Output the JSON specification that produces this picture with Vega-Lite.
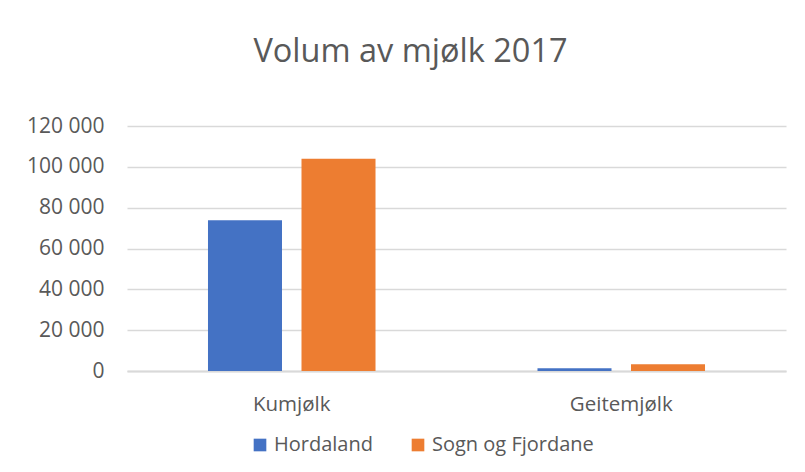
{
  "$schema": "https://vega.github.io/schema/vega-lite/v6.json",
  "autosize": {"type": "none"},
  "width": 659,
  "height": 245,
  "padding": {"left": 127, "top": 126, "right": 19, "bottom": 101},
  "background": "white",
  "config": {
    "locale": {"number": {"decimal": ",", "thousands": " ", "grouping": [3], "currency": ["", " kr"]}},
    "font": "Open Sans",
    "view": {"stroke": null}
  },
  "title": {
    "text": "Volum av mjølk 2017",
    "fontSize": 32.5,
    "font": "Open Sans",
    "fontWeight": "normal",
    "color": "#595959",
    "anchor": "middle",
    "dx": -46,
    "offset": 47
  },
  "data": {
    "values": [
      {"type": "Kumjølk", "region": "Hordaland", "volum": 73800},
      {"type": "Kumjølk", "region": "Sogn og Fjordane", "volum": 104000},
      {"type": "Geitemjølk", "region": "Hordaland", "volum": 1300},
      {"type": "Geitemjølk", "region": "Sogn og Fjordane", "volum": 3300}
    ]
  },
  "mark": {"type": "bar"},
  "encoding": {
    "x": {
      "field": "type",
      "type": "nominal",
      "sort": ["Kumjølk", "Geitemjølk"],
      "scale": {"paddingInner": 0, "paddingOuter": 0},
      "axis": {
        "title": null,
        "labelAngle": 0,
        "labelFontSize": 20.5,
        "labelColor": "#595959",
        "labelPadding": 23,
        "ticks": false,
        "domainColor": "#d9d9d9",
        "domainWidth": 2
      }
    },
    "xOffset": {
      "field": "region",
      "type": "nominal",
      "sort": ["Hordaland", "Sogn og Fjordane"],
      "scale": {"paddingInner": 0.2086, "paddingOuter": 0.866}
    },
    "y": {
      "field": "volum",
      "type": "quantitative",
      "scale": {"domain": [0, 120000]},
      "axis": {
        "title": null,
        "values": [0, 20000, 40000, 60000, 80000, 100000, 120000],
        "format": ",d",
        "labelFontSize": 21,
        "labelColor": "#595959",
        "labelPadding": 23,
        "ticks": false,
        "domain": false,
        "gridColor": "#d9d9d9",
        "gridWidth": 1.4
      }
    },
    "color": {
      "field": "region",
      "type": "nominal",
      "sort": ["Hordaland", "Sogn og Fjordane"],
      "scale": {"range": ["#4472C4", "#ED7D31"]},
      "legend": {
        "title": null,
        "orient": "none",
        "direction": "horizontal",
        "legendX": 123,
        "legendY": 309,
        "symbolType": "square",
        "symbolSize": 160,
        "symbolStrokeWidth": 0,
        "labelFontSize": 20,
        "labelColor": "#595959",
        "labelOffset": 4,
        "labelLimit": 400,
        "columnPadding": 35
      }
    }
  }
}
